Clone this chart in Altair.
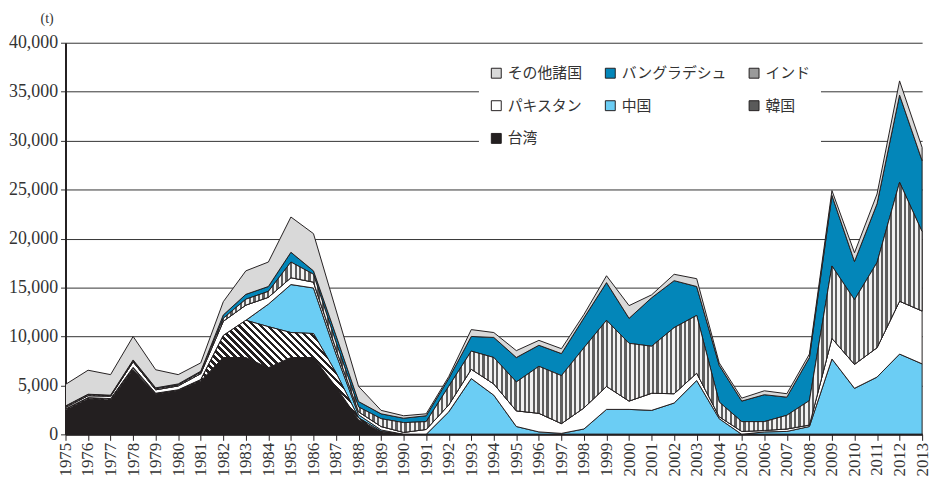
import altair as alt
import pandas as pd

years = list(range(1975, 2014))
series = ["台湾", "韓国", "中国", "パキスタン", "インド", "バングラデシュ", "その他諸国"]

taiwan = [2450, 3600, 3500, 6600, 4100, 4450, 5450, 7850, 7850, 6800, 7850, 7850, 4850, 1500, 250,
          0, 0, 0, 0, 0, 0, 0, 0, 0, 0, 0, 0, 0, 0, 0, 0, 0, 0, 0, 0, 0, 0, 0, 0]
korea = [100, 100, 100, 150, 50, 50, 100, 2250, 3800, 4200, 2550, 2450, 1450, 200, 50,
         0, 0, 0, 0, 0, 0, 0, 0, 0, 0, 0, 0, 0, 0, 0, 0, 0, 0, 0, 0, 0, 0, 0, 0]
china = [50, 50, 50, 100, 50, 50, 50, 0, 0, 2300, 4900, 4650, 1900, 300, 150, 0,
         0, 2300, 5700, 4000, 800, 250, 100, 550, 2550, 2550, 2450, 3200, 5500, 1600, 0,
         250, 300, 800, 7700, 4700, 5850, 8200, 7200]
pakistan = [150, 200, 250, 550, 350, 400, 600, 1450, 1550, 700, 700, 600, 500, 300, 350, 200,
            500, 700, 950, 1150, 1600, 1900, 1000, 2150, 2350, 850, 1750, 950, 750, 200, 300,
            150, 250, 150, 2100, 2450, 3000, 5400, 5400]
india = [100, 100, 50, 100, 100, 100, 150, 300, 600, 600, 1600, 800, 700, 500, 800, 1000,
         800, 1900, 1850, 2700, 2950, 4800, 4900, 6150, 6750, 5900, 4800, 6750, 5900, 1500, 1000,
         900, 1400, 2500, 7400, 6600, 8700, 12150, 8100]
bangladesh = [50, 50, 50, 100, 100, 100, 100, 350, 500, 500, 1000, 350, 700, 550, 500, 450,
              600, 800, 1500, 2050, 2500, 2150, 2250, 3050, 3850, 2550, 4950, 4800, 2950, 3750, 2100,
              2750, 1850, 4400, 7200, 3900, 6000, 8900, 7250]
others = [2200, 2450, 2100, 2400, 1850, 950, 850, 1350, 2400, 2500, 3600, 3800, 2600, 1550, 350, 250,
          200, 200, 700, 500, 700, 500, 500, 350, 700, 1300, 300, 650, 800, 250, 300,
          400, 350, 350, 500, 900, 1000, 1450, 1350]

values = [taiwan, korea, china, pakistan, india, bangladesh, others]
rows = []
for order, (name, vals) in enumerate(zip(series, values)):
    for yr, v in zip(years, vals):
        rows.append({"year": yr, "series": name, "value": v, "order": order})
df = pd.DataFrame(rows)

legend_order = ["その他諸国", "バングラデシュ", "インド", "パキスタン", "中国", "韓国", "台湾"]
legend_colors = ["#d9d9d9", "#0386b9", "#9a9a9a", "#ffffff", "#6bcdf4", "#5a5a5a", "#231f20"]

W, H = 864, 395
YMAX = 40000
STROKE = "#231f20"


def stripes(n, c1, c2, x1, y1, x2, y2):
    stops = []
    for k in range(n):
        a = round(k / n, 6)
        b = round((k + 0.5) / n, 6)
        c = round((k + 1) / n, 6)
        stops += [alt.GradientStop(offset=a, color=c1), alt.GradientStop(offset=b, color=c1),
                  alt.GradientStop(offset=b, color=c2), alt.GradientStop(offset=c, color=c2)]
    return alt.LinearGradient(gradient="linear", stops=stops, x1=x1, y1=y1, x2=x2, y2=y2)


# vertical stripes for India (period ~4.6 px across the full width)
india_fill = stripes(int(W / 4.6), "#5e5e5e", "#f2f2f2", 0, 0, 1, 0)

# diagonal hatch for Korea
kh = max(t + k for t, k in zip(taiwan, korea)) / YMAX * H
r = kh / W
ex, ey = 1.2, 1 - 1.2 * r
d2 = ex ** 2 + (1 - ey) ** 2
grad = ((ex / (W * d2)) ** 2 + ((1 - ey) / (kh * d2)) ** 2) ** 0.5
korea_fill = stripes(int(1 / (5.0 * grad)), "#231f20", "#ffffff", 0, 1, ex, ey)

x_enc = alt.X("year:Q",
              scale=alt.Scale(domain=[1975, 2013], nice=False, zero=False),
              axis=alt.Axis(values=years, format="d", labelAngle=270, title=None,
                            labelFont="Liberation Serif", labelFontSize=17, labelColor="#333",
                            tickSize=6, tickColor=STROKE, domainColor=STROKE, domainWidth=2,
                            grid=False, labelFlush=False, labelOverlap=False, labelPadding=2))
y_enc = alt.Y("y1:Q",
              scale=alt.Scale(domain=[0, YMAX], nice=False),
              axis=alt.Axis(values=list(range(0, YMAX + 1, 5000)), format=",d", title="(t)",
                            titleAngle=0, titleX=-19, titleY=-24, titleAlign="center",
                            titleBaseline="middle", titleFont="Liberation Serif", titleFontSize=14,
                            titleFontWeight="normal", titleColor="#333",
                            labelFont="Liberation Serif", labelFontSize=18, labelColor="#333",
                            labelPadding=3, tickSize=5, tickColor="#333",
                            domainColor=STROKE, domainWidth=2,
                            gridColor="#333", gridWidth=1, gridOpacity=1, labelFlush=False))

base = alt.Chart(df).transform_stack(
    stack="value", groupby=["year"], as_=["y0", "y1"],
    sort=[alt.SortField("order", "ascending")]
)

main = base.mark_area(stroke=STROKE, strokeWidth=1, opacity=1).encode(
    x=x_enc, y=y_enc, y2="y0:Q",
    color=alt.Color("series:N",
                    scale=alt.Scale(domain=legend_order, range=legend_colors),
                    legend=alt.Legend(title=None, orient="none", legendX=417, legendY=13,
                                      direction="horizontal", columns=3,
                                      fillColor="white", padding=10,
                                      symbolType="square", symbolSize=100,
                                      symbolStrokeColor=STROKE, symbolStrokeWidth=1,
                                      symbolOpacity=1,
                                      labelFont="Noto Sans CJK JP", labelFontSize=15,
                                      labelColor="#333", columnPadding=20, rowPadding=17,
                                      labelOffset=4)),
)

india_layer = base.transform_filter(alt.datum.series == "インド").mark_area(
    fill=india_fill, stroke=STROKE, strokeWidth=1
).encode(x=x_enc, y=y_enc, y2="y0:Q")

korea_layer = base.transform_filter(alt.datum.series == "韓国").mark_area(
    fill=korea_fill, stroke=STROKE, strokeWidth=1
).encode(x=x_enc, y=y_enc, y2="y0:Q")

chart = alt.layer(main, korea_layer, india_layer).properties(
    width=W, height=H,
    autosize=alt.AutoSizeParams(type="none"),
    padding={"left": 58, "top": 33, "right": 14, "bottom": 44},
).configure_view(stroke=None)

chart.save("out.html", embed_options={"renderer": "svg", "actions": False})
